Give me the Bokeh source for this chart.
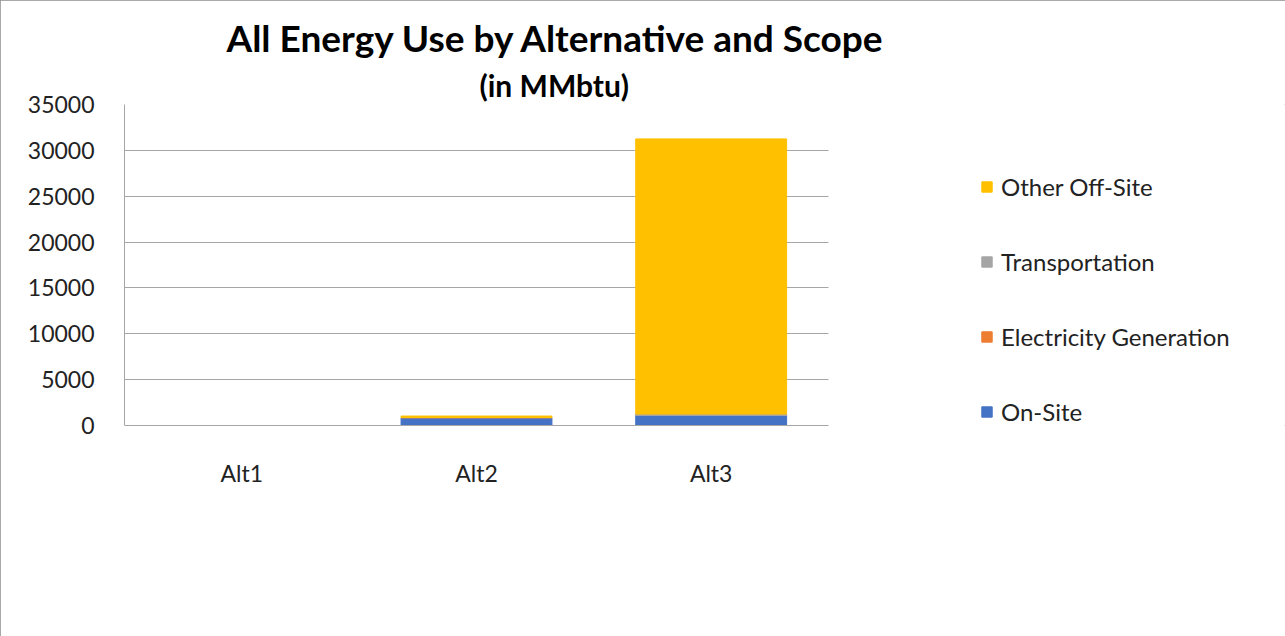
from bokeh.plotting import figure
from bokeh.models import Legend, LegendItem, Title, Range1d, FixedTicker
from bokeh.embed import file_html
from bokeh.resources import INLINE

# Energy use per alternative, split by scope (MMbtu)
categories = ["Alt1", "Alt2", "Alt3"]
on_site = [0, 850, 1100]
electricity_generation = [0, 0, 0]
transportation = [0, 20, 150]
other_off_site = [0, 160, 30000]

scopes = ["On-Site", "Electricity Generation", "Transportation", "Other Off-Site"]
colors = ["#4472C4", "#ED7D31", "#A5A5A5", "#FFC000"]
y_ticks = [0, 5000, 10000, 15000, 20000, 25000, 30000, 35000]

FONT = "Lato"
AXIS_TEXT = "23px"

# one slot per category; the frame continues to the right to hold the legend
positions = [i + 0.5 for i in range(len(categories))]
n_slots = len(categories)
FRAME_LEFT, PLOT_W, FRAME_W = 124, 704, 1161

data = {
    "x": positions,
    "On-Site": on_site,
    "Electricity Generation": electricity_generation,
    "Transportation": transportation,
    "Other Off-Site": other_off_site,
}

p = figure(
    width=1285, height=636,
    x_range=Range1d(0, n_slots * FRAME_W / PLOT_W),
    y_range=Range1d(0, 35000),
    output_backend="svg", toolbar_location=None,
    min_border_left=FRAME_LEFT, min_border_right=0,
    min_border_top=104, min_border_bottom=211,
    styles={"outline": "1px solid #8C8C8C", "outline-offset": "-1px"},
)
p.background_fill_color = "white"
p.border_fill_color = "white"
p.outline_line_color = None

renderers = p.vbar_stack(scopes, x="x", width=0.643, color=colors, source=data)

# axes
p.yaxis.ticker = FixedTicker(ticks=y_ticks)
p.yaxis.major_tick_line_color = None
p.yaxis.minor_tick_line_color = None
p.yaxis.axis_line_color = "#A6A6A6"
p.yaxis.major_label_text_font = FONT
p.yaxis.major_label_text_font_size = AXIS_TEXT
p.yaxis.major_label_text_color = "#222222"
p.yaxis.major_label_standoff = 24

p.xaxis.ticker = FixedTicker(ticks=positions)
p.xaxis.major_label_overrides = {pos: cat for pos, cat in zip(positions, categories)}
p.xaxis.bounds = (0, n_slots)
p.xaxis.major_tick_line_color = None
p.xaxis.minor_tick_line_color = None
p.xaxis.axis_line_color = "#A6A6A6"
p.xaxis.major_label_text_font = FONT
p.xaxis.major_label_text_font_size = AXIS_TEXT
p.xaxis.major_label_text_color = "#222222"
p.xaxis.major_label_standoff = 27

p.xgrid.grid_line_color = None
p.ygrid.grid_line_color = "#A6A6A6"
p.ygrid.grid_line_width = 1
p.ygrid.cross_bounds = (0, n_slots)

# subtitle first (nearest the frame), then the main title above it
p.add_layout(Title(text="(in MMbtu)", align="left", offset=355,
                   text_font=FONT, text_font_size="30px", text_font_style="bold",
                   text_color="#000000", standoff=4), "above")
p.add_layout(Title(text="All Energy Use by Alternative and Scope", align="left", offset=102,
                   text_font=FONT, text_font_size="37px", text_font_style="bold",
                   text_color="#000000", standoff=6), "above")

# legend, top to bottom in reverse stacking order
items = [LegendItem(label=s, renderers=[r]) for s, r in zip(scopes, renderers)][::-1]
legend = Legend(items=items, location=(856, -1))
legend.label_text_font = FONT
legend.label_text_font_size = "24px"
legend.label_text_color = "#222222"
legend.glyph_width = 13
legend.glyph_height = 13
legend.label_standoff = 8
legend.spacing = 46
legend.border_line_color = None
legend.background_fill_alpha = 0
legend.padding = 0
legend.margin = 0
p.add_layout(legend, "center")

open("out.html", "w").write(file_html(p, INLINE))
